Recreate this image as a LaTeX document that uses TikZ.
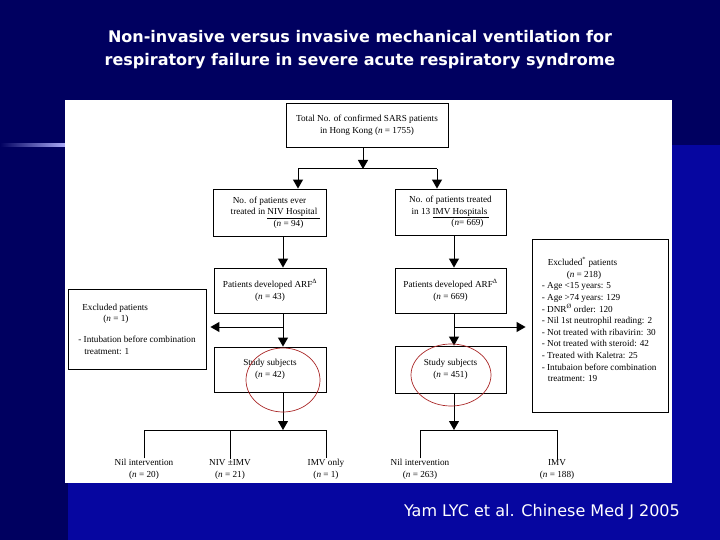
\documentclass[tikz,border=0pt]{standalone}
\usepackage{fontspec}
\setmainfont{Liberation Serif}
\newfontfamily\slidefont{DejaVu Sans}
\usetikzlibrary{arrows.meta, positioning}
\definecolor{slidenavy}{RGB}{0,0,96}
\definecolor{slideblue}{RGB}{6,6,160}
\definecolor{ringred}{RGB}{170,40,40}

\begin{document}
\begin{tikzpicture}[x=1pt, y=-1pt, font=\fontsize{9.2}{11.6}\selectfont,
    stage/.style={rectangle, draw=black, line width=0.9pt, fill=white, minimum width=112pt, minimum height=45pt, align=center, inner sep=2pt},
    exclusion/.style={rectangle, draw=black, line width=0.9pt, fill=white, align=left, inner sep=2pt},
    listtext/.style={align=left, inner sep=1pt},
    leaf/.style={align=center, inner sep=1pt},
    arrow/.style={-{Triangle[width=10pt,length=9pt]}, line width=1pt},
    fork/.style={line width=1pt},
    ring/.style={draw=ringred, line width=0.7pt}
]
\useasboundingbox (0,0) rectangle (720,540);
% slide background
\fill[slidenavy] (0,0) rectangle (720,540);
\fill[slideblue] (68,145) rectangle (720,540);
\shade[left color=slidenavy, right color=blue!30!white] (0,144) rectangle (68,146.5);
\fill[white] (65,100) rectangle (672,483);

\node[text=white, align=center, font=\slidefont\bfseries\fontsize{16}{23}\selectfont] (title) at (360,50)
    {Non-invasive versus invasive mechanical ventilation for\\respiratory failure in severe acute respiratory syndrome};
\node[text=white, font=\slidefont\fontsize{16}{19}\selectfont] (cite) at (542,512) {Yam LYC et al. Chinese Med J 2005};

% boxes
\node[stage, minimum width=162pt, minimum height=44pt] (total) at (367,125) {Total No. of confirmed SARS patients\\in Hong Kong (\textit{n} = 1755)};
\node[stage, minimum width=113pt, minimum height=47pt] (niv) at (269.5,212.5) {No. of patients ever\\\hspace*{12pt}treated in \underline{NIV Hospital\hspace{3pt}}\\\hspace*{38pt}(\textit{n} = 94)};
\node[stage, minimum width=111pt, minimum height=46pt] (imv) at (450.5,212) {No. of patients treated\\in 13 \underline{IMV Hospitals\hspace{2pt}}\\\hspace*{34pt}(\textit{n}= 669)};
\node[stage] (arfL) at (270,290.5) {Patients developed ARF\textsuperscript{Δ}\\(\textit{n} = 43)};
\node[stage, minimum width=111pt] (arfR) at (450.5,290.5) {Patients developed ARF\textsuperscript{Δ}\\(\textit{n} = 669)};
\node[stage] (studyL) at (270,369.5) {Study subjects\\(\textit{n} = 42)};
\node[stage, minimum width=111pt, minimum height=47pt] (studyR) at (450.5,369.5) {Study subjects\\(\textit{n} = 451)};

\node[exclusion, minimum width=138pt, minimum height=80pt] (exclL) at (137,329)
    {\hspace*{4pt}Excluded patients\\\hspace*{25pt}(\textit{n} = 1)\\[9pt]- Intubation before combination\\\hspace*{6pt}treatment: 1};
\node[exclusion, minimum width=136pt, minimum height=173pt] (exclR) at (600,325.5) {};
\node[listtext, anchor=north west] (exclRtext) at ([xshift=9pt, yshift=-18pt]exclR.north west)
    {\hspace*{6pt}Excluded\textsuperscript{*} patients\\
     \hspace*{25pt}(\textit{n} = 218)\\
     - Age <15 years: 5\\
     - Age >74 years: 129\\
     - DNR\textsuperscript{Ø} order: 120\\
     - Nil 1st neutrophil reading: 2\\
     - Not treated with ribavirin: 30\\
     - Not treated with steroid: 42\\
     - Treated with Kaletra: 25\\
     - Intubaion before combination\\
     \hspace*{6pt}treatment: 19};

% outcome labels
\node[leaf] (leafA) at (144,469.5) {Nil intervention\\(\textit{n} = 20)};
\node[leaf] (leafB) at (230,469.5) {NIV ±IMV\\(\textit{n} = 21)};
\node[leaf] (leafC) at (326,469.5) {IMV only\\(\textit{n} = 1)};
\node[leaf] (leafD) at (420,469.5) {Nil intervention\\(\textit{n} = 263)};
\node[leaf] (leafE) at (557,469.5) {IMV\\(\textit{n} = 188)};

% junction points
\coordinate (split) at (363,169);
\coordinate (splitL) at (298,169);
\coordinate (splitR) at (437,169);
\coordinate (lcol) at (283,0);
\coordinate (rcol) at (454,0);
\coordinate (exL) at (283,327);
\coordinate (exR) at (454,327);
\coordinate (forkL) at (283,430);
\coordinate (forkR) at (454,430);

% connectors
\draw[arrow] (total.south -| split) -- (split);
\draw[fork] (splitL) -- (splitR);
\draw[arrow] (splitL) -- (niv.north -| splitL);
\draw[arrow] (splitR) -- (imv.north -| splitR);
\draw[arrow] (niv.south -| lcol) -- (arfL.north -| lcol);
\draw[arrow] (imv.south -| rcol) -- (arfR.north -| rcol);
\draw[arrow] (arfL.south -| lcol) -- (studyL.north -| lcol);
\draw[arrow] (arfR.south -| rcol) -- (studyR.north -| rcol);
\draw[arrow, shorten >=4pt] (exL) -- (exclL.east |- exL);
\draw[arrow, shorten >=6pt] (exR) -- (exclR.west |- exR);
\draw[arrow] (studyL.south -| lcol) -- (forkL);
\draw[arrow] (studyR.south -| rcol) -- (forkR);
\draw[fork] (leafA.north) -- (leafA.north |- forkL) -- (leafC.north |- forkL) -- (leafC.north);
\draw[fork] (leafB.north) -- (leafB.north |- forkL);
\draw[fork] (leafD.north) -- (leafD.north |- forkR) -- (leafE.north |- forkR) -- (leafE.north);

% red rings
\draw[ring] (283,380) ellipse [x radius=37pt, y radius=32pt];
\draw[ring] (451,375) ellipse [x radius=40pt, y radius=31pt];
\end{tikzpicture}
\end{document}
